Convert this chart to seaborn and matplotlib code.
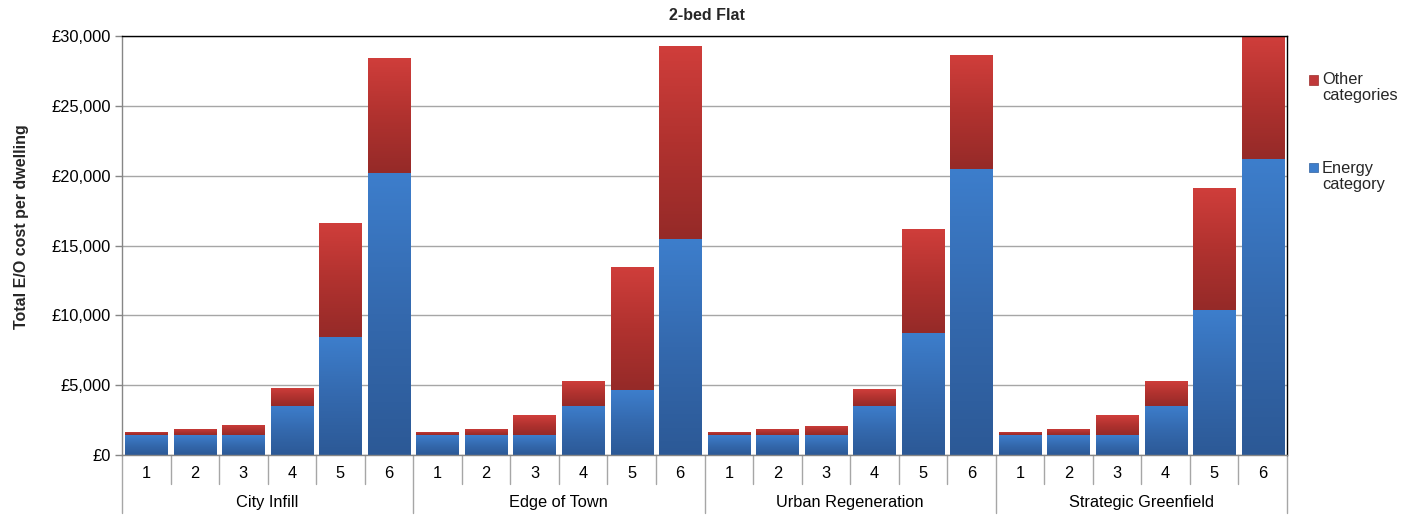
import numpy as np
import pandas as pd
import matplotlib
matplotlib.use("Agg")
import matplotlib.pyplot as plt
import matplotlib.transforms as mtransforms
from matplotlib.colors import LinearSegmentedColormap
from matplotlib.patches import Rectangle
import seaborn as sns

# ---- data -------------------------------------------------------------
groups = ["City Infill", "Edge of Town", "Urban Regeneration", "Strategic Greenfield"]
options = ["1", "2", "3", "4", "5", "6"]

# E/O cost per dwelling (GBP), six options per location, in group order
energy_category = [
    1400, 1400, 1400, 3530, 8420, 20200,
    1400, 1400, 1430, 3510, 4650, 15460,
    1400, 1400, 1400, 3510, 8700, 20500,
    1400, 1400, 1430, 3510, 10380, 21200,
]
other_categories = [
    270, 480, 770, 1290, 8210, 8240,
    250, 460, 1430, 1790, 8810, 13820,
    250, 460, 680, 1210, 7480, 8150,
    250, 460, 1430, 1790, 8750, 8800,
]
y_ticks = [0, 5000, 10000, 15000, 20000, 25000, 30000]

# ---- frame --------------------------------------------------------------
n_opt = len(options)
df = pd.DataFrame({
    "slot": np.arange(len(groups) * n_opt),
    "group": np.repeat(groups, n_opt),
    "option": options * len(groups),
    "energy": energy_category,
    "other": other_categories,
})
df["total"] = df["energy"] + df["other"]

sns.set_theme(style="white")
plt.rcParams["font.family"] = ["Liberation Sans", "DejaVu Sans"]

FS = 11.8
W, H = 1404, 517
fig = plt.figure(figsize=(W / 100, H / 100), dpi=100)
ax = fig.add_axes([122 / W, 1 - 455 / H, (1287 - 122) / W, (455 - 36) / H])

bar_w = 0.87
# stacked look: full totals first, energy share drawn over them
sns.barplot(data=df, x="slot", y="total", color="#C0392B", width=bar_w,
            ax=ax, saturation=1, errorbar=None, zorder=2)
n_red = len(ax.patches)
sns.barplot(data=df, x="slot", y="energy", color="#3B7CC9", width=bar_w,
            ax=ax, saturation=1, errorbar=None, zorder=2)

ax.set_xlim(-0.5, len(df) - 0.5)
ax.set_ylim(0, 30000)

# Vertical gradient fills in each segment
red_cmap = LinearSegmentedColormap.from_list("red_grad", ["#952A28", "#B1322F", "#D03E3B"])
blue_cmap = LinearSegmentedColormap.from_list("blue_grad", ["#2C5996", "#3469AE", "#3D7ECC"])
grad = np.linspace(0, 1, 256).reshape(-1, 1)

red_patches = ax.patches[:n_red]
blue_patches = ax.patches[n_red:]
for patch, lo, hi in zip(red_patches, df["energy"], df["total"]):
    x0 = patch.get_x()
    x1 = x0 + patch.get_width()
    patch.set_facecolor("none")
    patch.set_edgecolor("none")
    im = ax.imshow(grad, cmap=red_cmap, origin="lower", aspect="auto",
                   extent=(x0, x1, lo, hi), zorder=2.1, interpolation="bilinear")
    im.set_clip_path(patch)
for patch, hi in zip(blue_patches, df["energy"]):
    x0 = patch.get_x()
    x1 = x0 + patch.get_width()
    patch.set_facecolor("none")
    patch.set_edgecolor("none")
    im = ax.imshow(grad, cmap=blue_cmap, origin="lower", aspect="auto",
                   extent=(x0, x1, 0, hi), zorder=2.2, interpolation="bilinear")
    im.set_clip_path(patch)

ax.set_xlim(-0.5, len(df) - 0.5)
ax.set_ylim(0, 30000)

# ---- y axis -------------------------------------------------------------
ax.set_yticks(y_ticks)
ax.set_yticklabels([f"£{v:,.0f}" for v in y_ticks], fontsize=FS, color="black")
ax.tick_params(axis="y", which="both", left=True, length=5, width=1,
               color="#868686", pad=3)
ax.yaxis.grid(True, color="#A6A6A6", linewidth=1)
ax.set_axisbelow(True)
ax.set_ylabel("")

for side in ["top", "right"]:
    ax.spines[side].set_visible(True)
    ax.spines[side].set_color("black")
    ax.spines[side].set_linewidth(1)
for side in ["left", "bottom"]:
    ax.spines[side].set_visible(True)
    ax.spines[side].set_color("#868686")
    ax.spines[side].set_linewidth(1)

# ---- two-level category axis -------------------------------------------
ax.set_xticks([])
ax.set_xlabel("")
trans = mtransforms.blended_transform_factory(ax.transData, ax.transAxes)
sep_color = "#A6A6A6"
short_end = (455 - 484) / 419
long_end = (455 - 513) / 419
for k in range(len(df) + 1):
    xb = k - 0.5
    end = long_end if k % n_opt == 0 else short_end
    ax.plot([xb, xb], [0, end], transform=trans, color=sep_color,
            linewidth=1, clip_on=False, zorder=1)
for xs, opt in zip(df["slot"], df["option"]):
    ax.text(xs, (455 - 474) / 419, opt, transform=trans, ha="center",
            va="center", fontsize=FS, color="black")
for gi, g in enumerate(groups):
    xc = gi * n_opt + (n_opt - 1) / 2
    ax.text(xc, (455 - 502) / 419, g, transform=trans, ha="center",
            va="center", fontsize=FS, color="black")

# ---- titles -------------------------------------------------------------
fig.text(707 / W, 1 - 15 / H, "2-bed Flat", ha="center", va="center",
         fontsize=11.5, fontweight="bold")
fig.text(22 / W, 1 - 227 / H, "Total E/O cost per dwelling", ha="center",
         va="center", rotation=90, fontsize=11.5, fontweight="bold")

# ---- legend -------------------------------------------------------------
# (label, fill, edge, swatch centre y, text top y) in pixels from the top
legend_items = [("Other\ncategories", "#C0393A", "#9C2D2A", 80, 72),
                ("Energy\ncategory", "#3D7ECC", "#2F609E", 167, 161)]
for label, c_top, c_edge, yc, ytop in legend_items:
    fig.patches.append(Rectangle((1309 / W, 1 - (yc + 4.5) / H), 9 / W, 9 / H,
                                 transform=fig.transFigure, facecolor=c_top,
                                 edgecolor=c_edge, linewidth=0.5))
    fig.text(1322 / W, 1 - ytop / H, label, ha="left", va="top",
             fontsize=FS, linespacing=1.1)

fig.savefig("out.png", dpi=100)
